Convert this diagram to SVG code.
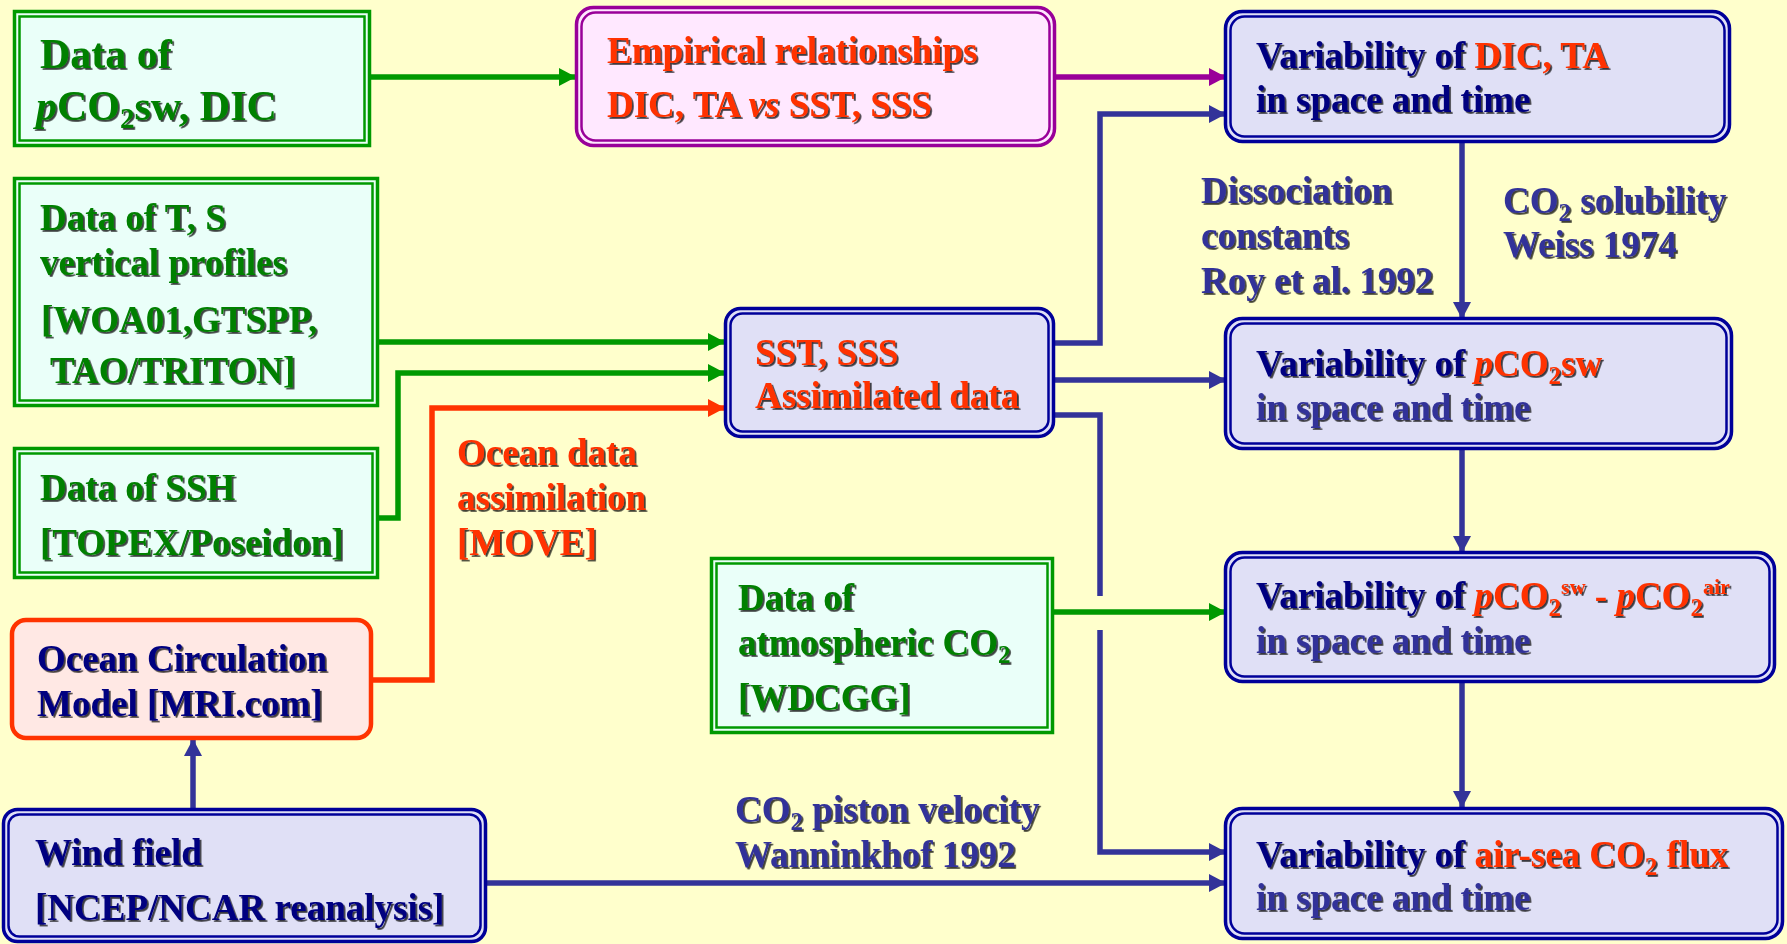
<svg xmlns="http://www.w3.org/2000/svg" width="1787" height="944" viewBox="0 0 1787 944">
<style>
.t{font-family:"Liberation Serif","Times New Roman",serif;font-weight:bold;font-size:37px}
.big{font-size:42px}
.g{fill:#008000}.r{fill:#FF3300}.n{fill:#000080}.b{fill:#333399}
.sub{font-size:25px}
.it{font-style:italic}
.gb{fill:#EAFFF9;stroke:#009900}
.pb{fill:#FFE8FF;stroke:#990099}
.bb{fill:#E0E0F6;stroke:#000099}
.o{fill:none}
.c{fill:none;stroke-width:5.5;stroke-linejoin:miter}
.cg{stroke:#009900}.cb{stroke:#333399}.cp{stroke:#990099}.cr{stroke:#FF3300}
</style>
<defs>
<filter id="sh" x="-5%" y="-20%" width="115%" height="160%">
<feDropShadow dx="1.8" dy="1.8" stdDeviation="0.4" flood-color="#000" flood-opacity="0.75"/>
</filter>
<marker id="ag" markerUnits="userSpaceOnUse" markerWidth="18" markerHeight="18" refX="16" refY="9" orient="auto"><path d="M0,0 L17,9 L0,18 z" fill="#009900"/></marker>
<marker id="ab" markerUnits="userSpaceOnUse" markerWidth="18" markerHeight="18" refX="16" refY="9" orient="auto"><path d="M0,0 L17,9 L0,18 z" fill="#333399"/></marker>
<marker id="ap" markerUnits="userSpaceOnUse" markerWidth="18" markerHeight="18" refX="16" refY="9" orient="auto"><path d="M0,0 L17,9 L0,18 z" fill="#990099"/></marker>
<marker id="ar" markerUnits="userSpaceOnUse" markerWidth="18" markerHeight="18" refX="16" refY="9" orient="auto"><path d="M0,0 L17,9 L0,18 z" fill="#FF3300"/></marker>
</defs>
<rect width="1787" height="944" fill="#FFFFCC"/>

<g id="connectors">
<path class="c cg" d="M371,77 H575" marker-end="url(#ag)"/>
<path class="c cp" d="M1056,77 H1225" marker-end="url(#ap)"/>
<path class="c cb" d="M1055,343 H1100 V114 H1225" marker-end="url(#ab)"/>
<path class="c cb" d="M1055,380 H1225" marker-end="url(#ab)"/>
<path class="c cb" d="M1055,415 H1100 V596"/>
<path class="c cb" d="M1100,630 V852 H1225" marker-end="url(#ab)"/>
<path class="c cg" d="M1054,612 H1225" marker-end="url(#ag)"/>
<path class="c cb" d="M487,883 H1225" marker-end="url(#ab)"/>
<path class="c cb" d="M193,808 V740" marker-end="url(#ab)"/>
<path class="c cr" d="M373,680 H432 V408 H724" marker-end="url(#ar)"/>
<path class="c cg" d="M379,342 H724" marker-end="url(#ag)"/>
<path class="c cg" d="M379,518 H398 V373 H724" marker-end="url(#ag)"/>
<path class="c cb" d="M1462,143 V318" marker-end="url(#ab)"/>
<path class="c cb" d="M1462,450 V552" marker-end="url(#ab)"/>
<path class="c cb" d="M1462,683 V807" marker-end="url(#ab)"/>
</g>

<g id="data-pco2">
<rect class="gb" x="14.5" y="11.5" width="355" height="134" stroke-width="3.5"/>
<rect class="o" x="19.5" y="16.5" width="345" height="124" stroke="#009900" stroke-width="2.5"/>
<g class="t big g" filter="url(#sh)">
<text x="40" y="68">Data of</text>
<text x="36" y="120"><tspan class="it">p</tspan>CO<tspan dy="8" font-size="29">2</tspan><tspan dy="-8">sw, DIC</tspan></text>
</g>
</g>

<g id="data-ts">
<rect class="gb" x="14.5" y="178.5" width="363" height="227" stroke-width="3.5"/>
<rect class="o" x="19.5" y="183.5" width="353" height="217" stroke="#009900" stroke-width="2.5"/>
<g class="t g" filter="url(#sh)">
<text x="40" y="230">Data of T, S</text>
<text x="40" y="275">vertical profiles</text>
<text x="41" y="332">[WOA01,GTSPP,</text>
<text x="50" y="383">TAO/TRITON]</text>
</g>
</g>

<g id="data-ssh">
<rect class="gb" x="14.5" y="448.5" width="363" height="129" stroke-width="3.5"/>
<rect class="o" x="19.5" y="453.5" width="353" height="119" stroke="#009900" stroke-width="2.5"/>
<g class="t g" filter="url(#sh)">
<text x="40" y="500">Data of SSH</text>
<text x="40" y="555">[TOPEX/Poseidon]</text>
</g>
</g>

<g id="ocean-model">
<rect x="12" y="620" width="359" height="118" rx="14" fill="#FFE8E4" stroke="#FF3300" stroke-width="4.5"/>
<g class="t n" filter="url(#sh)">
<text x="37" y="671">Ocean Circulation</text>
<text x="37" y="716">Model [MRI.com]</text>
</g>
</g>

<g id="wind">
<rect class="bb" x="3.5" y="809.5" width="482" height="132" rx="14" stroke-width="3.5"/>
<rect class="o" x="8.5" y="814.5" width="472" height="122" rx="11" stroke="#000099" stroke-width="2.5"/>
<g class="t n" filter="url(#sh)">
<text x="35" y="865">Wind field</text>
<text x="35" y="920">[NCEP/NCAR reanalysis]</text>
</g>
</g>

<g id="empirical">
<rect class="pb" x="576.5" y="7.5" width="478" height="138" rx="17" stroke-width="3.5"/>
<rect class="o" x="581.5" y="12.5" width="468" height="128" rx="14" stroke="#990099" stroke-width="2.5"/>
<g class="t r" filter="url(#sh)">
<text x="607" y="63">Empirical relationships</text>
<text x="607" y="117">DIC, TA <tspan class="it">vs</tspan> SST, SSS</text>
</g>
</g>

<g id="sst-sss">
<rect class="bb" x="725.5" y="308.5" width="328" height="128" rx="15" stroke-width="3.5"/>
<rect class="o" x="730.5" y="313.5" width="318" height="118" rx="12" stroke="#000099" stroke-width="2.5"/>
<g class="t r" filter="url(#sh)">
<text x="755" y="365">SST, SSS</text>
<text x="755" y="408">Assimilated data</text>
</g>
</g>

<g id="data-atm">
<rect class="gb" x="711.5" y="558.5" width="341" height="174" stroke-width="3.5"/>
<rect class="o" x="716.5" y="563.5" width="331" height="164" stroke="#009900" stroke-width="2.5"/>
<g class="t g" filter="url(#sh)">
<text x="738" y="610">Data of</text>
<text x="738" y="655">atmospheric CO<tspan class="sub" dy="8">2</tspan></text>
<text x="738" y="710">[WDCGG]</text>
</g>
</g>

<g id="var-dic">
<rect class="bb" x="1225.5" y="11.5" width="504" height="130" rx="17" stroke-width="3.5"/>
<rect class="o" x="1230.5" y="16.5" width="494" height="120" rx="14" stroke="#000099" stroke-width="2.5"/>
<g class="t" filter="url(#sh)">
<text x="1256" y="68" class="n">Variability of <tspan class="r">DIC, TA</tspan></text>
<text x="1256" y="112" class="n">in space and time</text>
</g>
</g>

<g id="var-pco2">
<rect class="bb" x="1225.5" y="318.5" width="506" height="130" rx="17" stroke-width="3.5"/>
<rect class="o" x="1230.5" y="323.5" width="496" height="120" rx="14" stroke="#000099" stroke-width="2.5"/>
<g class="t" filter="url(#sh)">
<text x="1256" y="376" class="n">Variability of <tspan class="r"><tspan class="it">p</tspan>CO<tspan class="sub" dy="8">2</tspan><tspan dy="-8">sw</tspan></tspan></text>
<text x="1256" y="420" class="b">in space and time</text>
</g>
</g>

<g id="var-dpco2">
<rect class="bb" x="1225.5" y="552.5" width="549" height="129" rx="17" stroke-width="3.5"/>
<rect class="o" x="1230.5" y="557.5" width="539" height="119" rx="14" stroke="#000099" stroke-width="2.5"/>
<g class="t" filter="url(#sh)">
<text x="1256" y="608" class="n">Variability of <tspan class="r"><tspan class="it">p</tspan>CO<tspan class="sub" dy="8">2</tspan><tspan font-size="22" dy="-22">sw</tspan><tspan dy="14"> - </tspan><tspan class="it">p</tspan>CO<tspan class="sub" dy="8">2</tspan><tspan font-size="22" dy="-22">air</tspan></tspan></text>
<text x="1256" y="653" class="b">in space and time</text>
</g>
</g>

<g id="var-flux">
<rect class="bb" x="1225.5" y="808.5" width="557" height="130" rx="17" stroke-width="3.5"/>
<rect class="o" x="1230.5" y="813.5" width="547" height="120" rx="14" stroke="#000099" stroke-width="2.5"/>
<g class="t" filter="url(#sh)">
<text x="1256" y="867" class="n">Variability of <tspan class="r">air-sea CO<tspan class="sub" dy="8">2</tspan><tspan dy="-8"> flux</tspan></tspan></text>
<text x="1256" y="910" class="b">in space and time</text>
</g>
</g>

<g id="labels" class="t" filter="url(#sh)">
<g class="r">
<text x="457" y="465">Ocean data</text>
<text x="457" y="510">assimilation</text>
<text x="457" y="555">[MOVE]</text>
</g>
<g class="b">
<text x="1201" y="203">Dissociation</text>
<text x="1201" y="248">constants</text>
<text x="1201" y="293">Roy et al. 1992</text>
<text x="1503" y="213">CO<tspan class="sub" dy="8">2</tspan><tspan dy="-8"> solubility</tspan></text>
<text x="1503" y="257">Weiss 1974</text>
<text x="735" y="822">CO<tspan class="sub" dy="8">2</tspan><tspan dy="-8"> piston velocity</tspan></text>
<text x="735" y="867">Wanninkhof 1992</text>
</g>
</g>
</svg>
